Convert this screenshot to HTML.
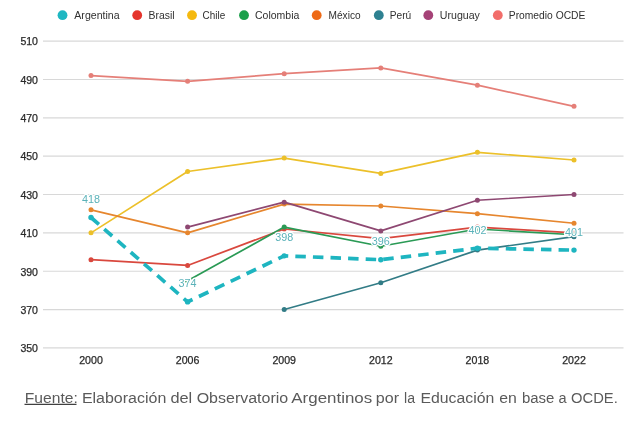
<!DOCTYPE html>
<html><head><meta charset="utf-8"><style>
html,body{margin:0;padding:0;background:#fff;width:638px;height:423px;overflow:hidden}
svg{position:absolute;left:0;top:0;filter:blur(0.3px)}
text{font-family:"Liberation Sans",sans-serif}
.ax{font-size:10px;fill:#2a2a2a;stroke:#2a2a2a;stroke-width:0.25px}
.lg{font-size:10.2px;fill:#303030}
.lbl{font-size:10px;fill:#5ab2b9;stroke:#fff;stroke-width:2.5px;paint-order:stroke;stroke-linejoin:round}
.ft{font-size:14px;fill:#5a5a5a}
.foot{position:absolute;left:25px;top:389px;font-family:"Liberation Sans",sans-serif;font-size:13px;color:#555;white-space:nowrap;transform-origin:0 0}
.foot u{text-decoration-color:#444}
</style></head><body>
<svg width="638" height="423" viewBox="0 0 638 423">
<line x1="43" y1="41.10" x2="623.5" y2="41.10" stroke="#d8d8d8" stroke-width="1.15"/>
<text x="38" y="45.40" text-anchor="end" class="ax" textLength="17.6" lengthAdjust="spacingAndGlyphs">510</text>
<line x1="43" y1="79.45" x2="623.5" y2="79.45" stroke="#d8d8d8" stroke-width="1.15"/>
<text x="38" y="83.75" text-anchor="end" class="ax" textLength="17.6" lengthAdjust="spacingAndGlyphs">490</text>
<line x1="43" y1="117.80" x2="623.5" y2="117.80" stroke="#d8d8d8" stroke-width="1.15"/>
<text x="38" y="122.10" text-anchor="end" class="ax" textLength="17.6" lengthAdjust="spacingAndGlyphs">470</text>
<line x1="43" y1="156.15" x2="623.5" y2="156.15" stroke="#d8d8d8" stroke-width="1.15"/>
<text x="38" y="160.45" text-anchor="end" class="ax" textLength="17.6" lengthAdjust="spacingAndGlyphs">450</text>
<line x1="43" y1="194.50" x2="623.5" y2="194.50" stroke="#d8d8d8" stroke-width="1.15"/>
<text x="38" y="198.80" text-anchor="end" class="ax" textLength="17.6" lengthAdjust="spacingAndGlyphs">430</text>
<line x1="43" y1="232.85" x2="623.5" y2="232.85" stroke="#d8d8d8" stroke-width="1.15"/>
<text x="38" y="237.15" text-anchor="end" class="ax" textLength="17.6" lengthAdjust="spacingAndGlyphs">410</text>
<line x1="43" y1="271.20" x2="623.5" y2="271.20" stroke="#d8d8d8" stroke-width="1.15"/>
<text x="38" y="275.50" text-anchor="end" class="ax" textLength="17.6" lengthAdjust="spacingAndGlyphs">390</text>
<line x1="43" y1="309.55" x2="623.5" y2="309.55" stroke="#d8d8d8" stroke-width="1.15"/>
<text x="38" y="313.85" text-anchor="end" class="ax" textLength="17.6" lengthAdjust="spacingAndGlyphs">370</text>
<line x1="43" y1="347.90" x2="623.5" y2="347.90" stroke="#d8d8d8" stroke-width="1.15"/>
<text x="38" y="352.20" text-anchor="end" class="ax" textLength="17.6" lengthAdjust="spacingAndGlyphs">350</text>
<text x="91.00" y="363.5" text-anchor="middle" class="ax" textLength="23.6" lengthAdjust="spacingAndGlyphs">2000</text>
<text x="187.60" y="363.5" text-anchor="middle" class="ax" textLength="23.6" lengthAdjust="spacingAndGlyphs">2006</text>
<text x="284.20" y="363.5" text-anchor="middle" class="ax" textLength="23.6" lengthAdjust="spacingAndGlyphs">2009</text>
<text x="380.80" y="363.5" text-anchor="middle" class="ax" textLength="23.6" lengthAdjust="spacingAndGlyphs">2012</text>
<text x="477.40" y="363.5" text-anchor="middle" class="ax" textLength="23.6" lengthAdjust="spacingAndGlyphs">2018</text>
<text x="574.00" y="363.5" text-anchor="middle" class="ax" textLength="23.6" lengthAdjust="spacingAndGlyphs">2022</text>
<polyline points="91.00,75.62 187.60,81.37 284.20,73.70 380.80,67.94 477.40,85.20 574.00,106.30" fill="none" stroke="#e57f78" stroke-width="1.7" stroke-linejoin="round" />
<circle cx="91.00" cy="75.62" r="2.5" fill="#e57f78"/>
<circle cx="187.60" cy="81.37" r="2.5" fill="#e57f78"/>
<circle cx="284.20" cy="73.70" r="2.5" fill="#e57f78"/>
<circle cx="380.80" cy="67.94" r="2.5" fill="#e57f78"/>
<circle cx="477.40" cy="85.20" r="2.5" fill="#e57f78"/>
<circle cx="574.00" cy="106.30" r="2.5" fill="#e57f78"/>
<polyline points="91.00,232.85 187.60,171.49 284.20,158.07 380.80,173.41 477.40,152.31 574.00,159.99" fill="none" stroke="#ecc02a" stroke-width="1.7" stroke-linejoin="round" />
<circle cx="91.00" cy="232.85" r="2.5" fill="#ecc02a"/>
<circle cx="187.60" cy="171.49" r="2.5" fill="#ecc02a"/>
<circle cx="284.20" cy="158.07" r="2.5" fill="#ecc02a"/>
<circle cx="380.80" cy="173.41" r="2.5" fill="#ecc02a"/>
<circle cx="477.40" cy="152.31" r="2.5" fill="#ecc02a"/>
<circle cx="574.00" cy="159.99" r="2.5" fill="#ecc02a"/>
<polyline points="91.00,209.84 187.60,232.85 284.20,204.09 380.80,206.00 477.40,213.67 574.00,223.26" fill="none" stroke="#e6862e" stroke-width="1.7" stroke-linejoin="round" />
<circle cx="91.00" cy="209.84" r="2.5" fill="#e6862e"/>
<circle cx="187.60" cy="232.85" r="2.5" fill="#e6862e"/>
<circle cx="284.20" cy="204.09" r="2.5" fill="#e6862e"/>
<circle cx="380.80" cy="206.00" r="2.5" fill="#e6862e"/>
<circle cx="477.40" cy="213.67" r="2.5" fill="#e6862e"/>
<circle cx="574.00" cy="223.26" r="2.5" fill="#e6862e"/>
<polyline points="187.60,227.10 284.20,202.17 380.80,230.93 477.40,200.25 574.00,194.50" fill="none" stroke="#8e4872" stroke-width="1.7" stroke-linejoin="round" />
<circle cx="187.60" cy="227.10" r="2.5" fill="#8e4872"/>
<circle cx="284.20" cy="202.17" r="2.5" fill="#8e4872"/>
<circle cx="380.80" cy="230.93" r="2.5" fill="#8e4872"/>
<circle cx="477.40" cy="200.25" r="2.5" fill="#8e4872"/>
<circle cx="574.00" cy="194.50" r="2.5" fill="#8e4872"/>
<polyline points="91.00,259.70 187.60,265.45 284.20,229.02 380.80,238.60 477.40,227.10 574.00,232.85" fill="none" stroke="#d9483e" stroke-width="1.7" stroke-linejoin="round" />
<circle cx="91.00" cy="259.70" r="2.5" fill="#d9483e"/>
<circle cx="187.60" cy="265.45" r="2.5" fill="#d9483e"/>
<circle cx="284.20" cy="229.02" r="2.5" fill="#d9483e"/>
<circle cx="380.80" cy="238.60" r="2.5" fill="#d9483e"/>
<circle cx="477.40" cy="227.10" r="2.5" fill="#d9483e"/>
<circle cx="574.00" cy="232.85" r="2.5" fill="#d9483e"/>
<polyline points="187.60,280.79 284.20,227.10 380.80,246.27 477.40,229.02 574.00,234.77" fill="none" stroke="#2a9a55" stroke-width="1.7" stroke-linejoin="round" />
<circle cx="187.60" cy="280.79" r="2.5" fill="#2a9a55"/>
<circle cx="284.20" cy="227.10" r="2.5" fill="#2a9a55"/>
<circle cx="380.80" cy="246.27" r="2.5" fill="#2a9a55"/>
<circle cx="477.40" cy="229.02" r="2.5" fill="#2a9a55"/>
<circle cx="574.00" cy="234.77" r="2.5" fill="#2a9a55"/>
<polyline points="284.20,309.55 380.80,282.71 477.40,250.11 574.00,236.69" fill="none" stroke="#327c86" stroke-width="1.7" stroke-linejoin="round" />
<circle cx="284.20" cy="309.55" r="2.5" fill="#327c86"/>
<circle cx="380.80" cy="282.71" r="2.5" fill="#327c86"/>
<circle cx="477.40" cy="250.11" r="2.5" fill="#327c86"/>
<circle cx="574.00" cy="236.69" r="2.5" fill="#327c86"/>
<polyline points="91.00,217.51 187.60,301.88 284.20,255.86 380.80,259.70 477.40,248.19 574.00,250.11" fill="none" stroke="#1eb5c0" stroke-width="3.7" stroke-dasharray="10.5 7.1" stroke-linejoin="round"/>
<circle cx="91.00" cy="217.51" r="2.7" fill="#1eb5c0"/>
<circle cx="187.60" cy="301.88" r="2.7" fill="#1eb5c0"/>
<circle cx="284.20" cy="255.86" r="2.7" fill="#1eb5c0"/>
<circle cx="380.80" cy="259.70" r="2.7" fill="#1eb5c0"/>
<circle cx="477.40" cy="248.19" r="2.7" fill="#1eb5c0"/>
<circle cx="574.00" cy="250.11" r="2.7" fill="#1eb5c0"/>
<text x="91.00" y="203.11" text-anchor="middle" class="lbl" textLength="18" lengthAdjust="spacingAndGlyphs">418</text>
<text x="187.60" y="287.48" text-anchor="middle" class="lbl" textLength="18" lengthAdjust="spacingAndGlyphs">374</text>
<text x="284.20" y="241.46" text-anchor="middle" class="lbl" textLength="18" lengthAdjust="spacingAndGlyphs">398</text>
<text x="380.80" y="245.30" text-anchor="middle" class="lbl" textLength="18" lengthAdjust="spacingAndGlyphs">396</text>
<text x="477.40" y="233.79" text-anchor="middle" class="lbl" textLength="18" lengthAdjust="spacingAndGlyphs">402</text>
<text x="574.00" y="235.71" text-anchor="middle" class="lbl" textLength="18" lengthAdjust="spacingAndGlyphs">401</text>
<circle cx="62.5" cy="15.2" r="4.9" fill="#1fb7c2"/>
<text x="74.3" y="19.3" class="lg" textLength="45.300000000000004" lengthAdjust="spacingAndGlyphs">Argentina</text>
<circle cx="137.2" cy="15.2" r="4.9" fill="#e5342c"/>
<text x="148.5" y="19.3" class="lg" textLength="26.1" lengthAdjust="spacingAndGlyphs">Brasil</text>
<circle cx="192.0" cy="15.2" r="4.9" fill="#f5b90f"/>
<text x="202.6" y="19.3" class="lg" textLength="22.6" lengthAdjust="spacingAndGlyphs">Chile</text>
<circle cx="244.0" cy="15.2" r="4.9" fill="#1a9f4a"/>
<text x="255.0" y="19.3" class="lg" textLength="44.300000000000004" lengthAdjust="spacingAndGlyphs">Colombia</text>
<circle cx="316.7" cy="15.2" r="4.9" fill="#ee6a16"/>
<text x="328.6" y="19.3" class="lg" textLength="32.0" lengthAdjust="spacingAndGlyphs">México</text>
<circle cx="378.8" cy="15.2" r="4.9" fill="#2e8191"/>
<text x="389.7" y="19.3" class="lg" textLength="21.5" lengthAdjust="spacingAndGlyphs">Perú</text>
<circle cx="428.3" cy="15.2" r="4.9" fill="#a54277"/>
<text x="439.8" y="19.3" class="lg" textLength="40.1" lengthAdjust="spacingAndGlyphs">Uruguay</text>
<circle cx="497.8" cy="15.2" r="4.9" fill="#f26d6a"/>
<text x="508.8" y="19.3" class="lg" textLength="76.6" lengthAdjust="spacingAndGlyphs">Promedio OCDE</text>
<text x="24.80" y="402.8" class="ft" textLength="53.00" lengthAdjust="spacingAndGlyphs">Fuente:</text>
<text x="81.90" y="402.8" class="ft" textLength="84.40" lengthAdjust="spacingAndGlyphs">Elaboración</text>
<text x="170.40" y="402.8" class="ft" textLength="21.80" lengthAdjust="spacingAndGlyphs">del</text>
<text x="196.70" y="402.8" class="ft" textLength="91.50" lengthAdjust="spacingAndGlyphs">Observatorio</text>
<text x="291.30" y="402.8" class="ft" textLength="80.90" lengthAdjust="spacingAndGlyphs">Argentinos</text>
<text x="375.80" y="402.8" class="ft" textLength="23.20" lengthAdjust="spacingAndGlyphs">por</text>
<text x="404.00" y="402.8" class="ft" textLength="11.00" lengthAdjust="spacingAndGlyphs">la</text>
<text x="420.50" y="402.8" class="ft" textLength="73.80" lengthAdjust="spacingAndGlyphs">Educación</text>
<text x="499.30" y="402.8" class="ft" textLength="17.60" lengthAdjust="spacingAndGlyphs">en</text>
<text x="521.90" y="402.8" class="ft" textLength="32.40" lengthAdjust="spacingAndGlyphs">base</text>
<text x="558.40" y="402.8" class="ft" textLength="8.10" lengthAdjust="spacingAndGlyphs">a</text>
<text x="571.10" y="402.8" class="ft" textLength="46.70" lengthAdjust="spacingAndGlyphs">OCDE.</text>
<line x1="24.5" y1="404.3" x2="76.5" y2="404.3" stroke="#404040" stroke-width="1.3"/>
</svg>
</body></html>
